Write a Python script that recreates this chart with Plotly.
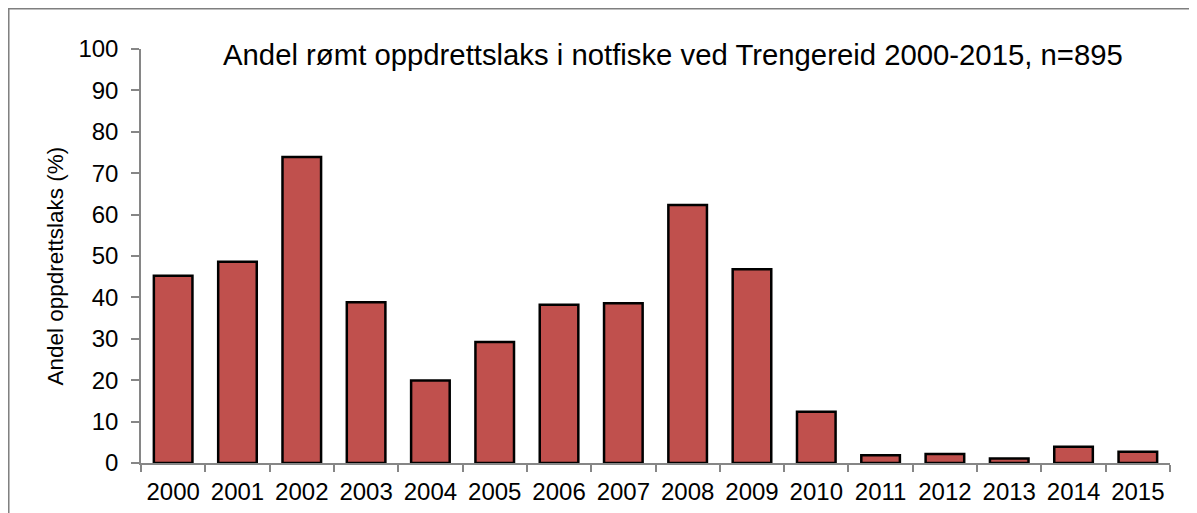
import plotly.graph_objects as go

years = ["2000", "2001", "2002", "2003", "2004", "2005", "2006", "2007",
         "2008", "2009", "2010", "2011", "2012", "2013", "2014", "2015"]
andel = [45.2, 48.6, 73.9, 38.8, 19.9, 29.2, 38.2, 38.6,
         62.3, 46.8, 12.4, 1.9, 2.2, 1.1, 3.9, 2.7]
y_ticks = [0, 10, 20, 30, 40, 50, 60, 70, 80, 90, 100]

title_text = "Andel rømt oppdrettslaks i notfiske ved Trengereid 2000-2015, n=895"
y_title = "Andel oppdrettslaks (%)"

font_family = "Liberation Sans, Arial, sans-serif"
axis_col = "#868686"

fig = go.Figure()
fig.add_trace(go.Bar(
    x=years, y=andel, width=0.6,
    marker=dict(color="#C0504D", line=dict(color="black", width=2.5)),
    showlegend=False,
))

fig.update_layout(
    width=1189, height=505,
    margin=dict(l=133, r=27, t=41, b=50, autoexpand=False),
    paper_bgcolor="white", plot_bgcolor="white",
    font=dict(family=font_family, color="black", size=24),
    bargap=0.4,
    xaxis=dict(
        type="category", range=[-0.5, 15.5],
        showline=True, linecolor=axis_col, linewidth=1.5,
        ticks="outside", tickson="boundaries", ticklen=7, tickcolor=axis_col, tickwidth=1.5,
        tickfont=dict(size=24, family=font_family, color="black"),
        ticklabelstandoff=6,
        showgrid=False, zeroline=False, fixedrange=True,
    ),
    yaxis=dict(
        range=[0, 100], tickvals=y_ticks,
        showline=True, linecolor=axis_col, linewidth=1.5,
        ticks="outside", ticklen=8, tickcolor=axis_col, tickwidth=1.5,
        tickfont=dict(size=24, family=font_family, color="black"),
        ticklabelstandoff=8,
        showgrid=False, zeroline=False, fixedrange=True,
    ),
    annotations=[
        dict(text=title_text, xref="paper", yref="paper", x=0.517, y=0.987,
             xanchor="center", yanchor="middle", showarrow=False,
             font=dict(size=29.3, family=font_family, color="black")),
        dict(text=y_title, xref="paper", yref="paper", x=-0.083, y=0.476,
             xanchor="center", yanchor="middle", textangle=-90, showarrow=False,
             font=dict(size=22.5, family=font_family, color="black")),
    ],
    shapes=[
        dict(type="rect", xref="paper", yref="paper",
             x0=-0.1285, y0=-0.3, x1=1.3, y1=1.0975,
             line=dict(color="#7f7f7f", width=1.5), fillcolor="rgba(0,0,0,0)",
             layer="below"),
    ],
)

fig.write_html("out.html")
